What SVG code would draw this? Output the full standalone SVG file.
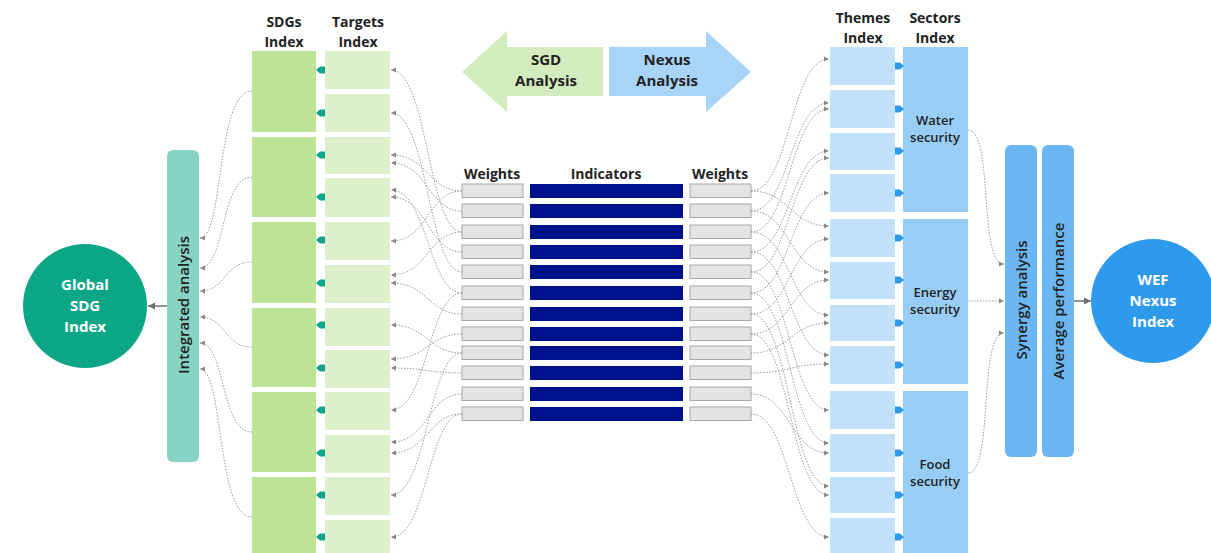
<svg xmlns="http://www.w3.org/2000/svg" width="1211" height="553" viewBox="0 0 1211 553">
<style>
.hd{font-family:"Open Sans","Liberation Sans",sans-serif;font-weight:700;font-size:14px;fill:#222;text-anchor:middle}
.big{font-family:"Open Sans","Liberation Sans",sans-serif;font-weight:700;font-size:15px;text-anchor:middle}
.sec{font-family:"Open Sans","Liberation Sans",sans-serif;font-weight:600;font-size:13px;fill:#222;text-anchor:middle}
.rot{font-family:"Open Sans","Liberation Sans",sans-serif;font-weight:600;font-size:15px;fill:#222;text-anchor:middle;dominant-baseline:central}
.sdg{fill:#bde396}
.tgt{fill:#dcf1cb}
.thm{fill:#c2e0f8}
.sct{fill:#98cdf5}
.wt{fill:#e4e4e4;stroke:#a8a8a8;stroke-width:1}
.ind{fill:#00118c}
.dot{fill:none;stroke:#9a9a9a;stroke-width:1;stroke-dasharray:1.5 1.5;marker-end:url(#ah)}
.solid{fill:none;stroke:#707070;stroke-width:1.5;marker-end:url(#ah2)}
</style>
<defs>
<marker id="ah" markerWidth="6" markerHeight="6" refX="5" refY="3" orient="auto" markerUnits="userSpaceOnUse"><path d="M0,0.5 L5,3 L0,5.5 Z" fill="#888"/></marker>
<marker id="ah2" markerWidth="8" markerHeight="8" refX="7" refY="4" orient="auto" markerUnits="userSpaceOnUse"><path d="M0,0.5 L7,4 L0,7.5 Z" fill="#707070"/></marker>
<path id="ta" d="M0,0 L4,-3.5 L9,-3.5 L9,3.5 L4,3.5 Z" fill="#10a48a"/>
<path id="ba" d="M0,-3.5 L5,-3.5 L9,0 L5,3.5 L0,3.5 Z" fill="#2e9aec"/>
</defs>
<rect width="1211" height="553" fill="#fff"/>

<g id="global-sdg">
<circle cx="85" cy="306" r="62" fill="#0ba686"/>
<text class="big" fill="#fff" x="85" y="290">Global</text>
<text class="big" fill="#fff" x="85" y="311">SDG</text>
<text class="big" fill="#fff" x="85" y="332">Index</text>
</g>

<g id="integrated-analysis">
<rect x="167" y="150" width="32" height="312" rx="6" fill="#87d3c4"/>
<text class="rot" transform="translate(183,305) rotate(-90)">Integrated analysis</text>
</g>

<g id="sdgs-index">
<text class="hd" x="284" y="27">SDGs</text>
<text class="hd" x="284" y="47">Index</text>
<rect class="sdg" x="252" y="51" width="64" height="81"/>
<rect class="sdg" x="252" y="137" width="64" height="80"/>
<rect class="sdg" x="252" y="222" width="64" height="81"/>
<rect class="sdg" x="252" y="308" width="64" height="79"/>
<rect class="sdg" x="252" y="392" width="64" height="80"/>
<rect class="sdg" x="252" y="477" width="64" height="76"/>
</g>

<g id="targets-index">
<text class="hd" x="358" y="27">Targets</text>
<text class="hd" x="358" y="47">Index</text>
<rect class="tgt" x="325" y="51" width="65" height="38"/>
<rect class="tgt" x="325" y="94" width="65" height="38"/>
<rect class="tgt" x="325" y="137" width="65" height="37"/>
<rect class="tgt" x="325" y="178" width="65" height="39"/>
<rect class="tgt" x="325" y="222" width="65" height="38"/>
<rect class="tgt" x="325" y="265" width="65" height="38"/>
<rect class="tgt" x="325" y="308" width="65" height="38"/>
<rect class="tgt" x="325" y="350" width="65" height="38"/>
<rect class="tgt" x="325" y="392" width="65" height="38"/>
<rect class="tgt" x="325" y="435" width="65" height="38"/>
<rect class="tgt" x="325" y="477" width="65" height="38"/>
<rect class="tgt" x="325" y="520" width="65" height="33"/>
</g>

<g id="sgd-analysis">
<path d="M462,72 L507,31 L507,47 L603,47 L603,96 L507,96 L507,112 Z" fill="#d3ecbe"/>
<text class="big" fill="#222" x="546" y="65">SGD</text>
<text class="big" fill="#222" x="546" y="86">Analysis</text>
</g>

<g id="nexus-analysis">
<path d="M751,72 L706,31 L706,47 L609,47 L609,96 L706,96 L706,112 Z" fill="#a8d5f7"/>
<text class="big" fill="#222" x="667" y="65">Nexus</text>
<text class="big" fill="#222" x="667" y="86">Analysis</text>
</g>

<g id="weights-left">
<text class="hd" x="492" y="179">Weights</text>
<rect class="wt" x="462" y="184" width="61" height="13.5"/>
<rect class="wt" x="462" y="204" width="61" height="13.5"/>
<rect class="wt" x="462" y="225" width="61" height="13.5"/>
<rect class="wt" x="462" y="245" width="61" height="13.5"/>
<rect class="wt" x="462" y="265" width="61" height="13.5"/>
<rect class="wt" x="462" y="286" width="61" height="13.5"/>
<rect class="wt" x="462" y="307" width="61" height="13.5"/>
<rect class="wt" x="462" y="327" width="61" height="13.5"/>
<rect class="wt" x="462" y="346" width="61" height="13.5"/>
<rect class="wt" x="462" y="366" width="61" height="13.5"/>
<rect class="wt" x="462" y="387" width="61" height="13.5"/>
<rect class="wt" x="462" y="407" width="61" height="13.5"/>
</g>

<g id="indicators">
<text class="hd" x="606" y="179">Indicators</text>
<rect class="ind" x="530" y="184" width="153" height="14"/>
<rect class="ind" x="530" y="204" width="153" height="14"/>
<rect class="ind" x="530" y="225" width="153" height="14"/>
<rect class="ind" x="530" y="245" width="153" height="14"/>
<rect class="ind" x="530" y="265" width="153" height="14"/>
<rect class="ind" x="530" y="286" width="153" height="14"/>
<rect class="ind" x="530" y="307" width="153" height="14"/>
<rect class="ind" x="530" y="327" width="153" height="14"/>
<rect class="ind" x="530" y="346" width="153" height="14"/>
<rect class="ind" x="530" y="366" width="153" height="14"/>
<rect class="ind" x="530" y="387" width="153" height="14"/>
<rect class="ind" x="530" y="407" width="153" height="14"/>
</g>

<g id="weights-right">
<text class="hd" x="720" y="179">Weights</text>
<rect class="wt" x="690" y="184" width="61" height="13.5"/>
<rect class="wt" x="690" y="204" width="61" height="13.5"/>
<rect class="wt" x="690" y="225" width="61" height="13.5"/>
<rect class="wt" x="690" y="245" width="61" height="13.5"/>
<rect class="wt" x="690" y="265" width="61" height="13.5"/>
<rect class="wt" x="690" y="286" width="61" height="13.5"/>
<rect class="wt" x="690" y="307" width="61" height="13.5"/>
<rect class="wt" x="690" y="327" width="61" height="13.5"/>
<rect class="wt" x="690" y="346" width="61" height="13.5"/>
<rect class="wt" x="690" y="366" width="61" height="13.5"/>
<rect class="wt" x="690" y="387" width="61" height="13.5"/>
<rect class="wt" x="690" y="407" width="61" height="13.5"/>
</g>

<g id="themes-index">
<text class="hd" x="863" y="23">Themes</text>
<text class="hd" x="863" y="43">Index</text>
<rect class="thm" x="830" y="47" width="65" height="38"/>
<rect class="thm" x="830" y="90" width="65" height="38"/>
<rect class="thm" x="830" y="133" width="65" height="37"/>
<rect class="thm" x="830" y="174" width="65" height="38"/>
<rect class="thm" x="830" y="219" width="65" height="38"/>
<rect class="thm" x="830" y="262" width="65" height="37"/>
<rect class="thm" x="830" y="305" width="65" height="36"/>
<rect class="thm" x="830" y="346" width="65" height="38"/>
<rect class="thm" x="830" y="391" width="65" height="38"/>
<rect class="thm" x="830" y="434" width="65" height="38"/>
<rect class="thm" x="830" y="477" width="65" height="36"/>
<rect class="thm" x="830" y="518" width="65" height="35"/>
</g>

<g id="sectors-index">
<text class="hd" x="935" y="23">Sectors</text>
<text class="hd" x="935" y="43">Index</text>
<rect class="sct" x="903" y="47" width="65" height="165"/>
<rect class="sct" x="903" y="219" width="65" height="165"/>
<rect class="sct" x="903" y="391" width="65" height="162"/>
<text class="sec" x="935" y="125">Water</text>
<text class="sec" x="935" y="142">security</text>
<text class="sec" x="935" y="297">Energy</text>
<text class="sec" x="935" y="314">security</text>
<text class="sec" x="935" y="469">Food</text>
<text class="sec" x="935" y="486">security</text>
</g>

<g id="synergy-analysis">
<rect x="1005" y="145" width="32" height="312" rx="6" fill="#6cb6f2"/>
<text class="rot" transform="translate(1021,300) rotate(-90)">Synergy analysis</text>
</g>

<g id="average-performance">
<rect x="1042" y="145" width="32" height="312" rx="6" fill="#6cb6f2"/>
<text class="rot" transform="translate(1058,301) rotate(-90)">Average performance</text>
</g>

<g id="wef-nexus">
<circle cx="1153" cy="301" r="62" fill="#2e9aec"/>
<text class="big" fill="#fff" x="1153" y="285">WEF</text>
<text class="big" fill="#fff" x="1153" y="306">Nexus</text>
<text class="big" fill="#fff" x="1153" y="327">Index</text>
</g>

<g id="connectors">
<!-- target -> SDG arrows -->
<use href="#ta" x="316" y="70"/><use href="#ta" x="316" y="113"/><use href="#ta" x="316" y="155"/><use href="#ta" x="316" y="197"/>
<use href="#ta" x="316" y="240"/><use href="#ta" x="316" y="283"/><use href="#ta" x="316" y="325"/><use href="#ta" x="316" y="368"/>
<use href="#ta" x="316" y="410"/><use href="#ta" x="316" y="453"/><use href="#ta" x="316" y="495"/><use href="#ta" x="316" y="537"/>
<!-- theme -> sector arrows -->
<use href="#ba" x="895" y="66"/><use href="#ba" x="895" y="109"/><use href="#ba" x="895" y="151"/><use href="#ba" x="895" y="193"/>
<use href="#ba" x="895" y="238"/><use href="#ba" x="895" y="280"/><use href="#ba" x="895" y="323"/><use href="#ba" x="895" y="365"/>
<use href="#ba" x="895" y="410"/><use href="#ba" x="895" y="453"/><use href="#ba" x="895" y="495"/><use href="#ba" x="895" y="537"/>

<!-- left weights -> targets -->
<path class="dot" d="M462,232 C428,232 428,70 391,70"/>
<path class="dot" d="M462,272 C428,272 428,113 391,113"/>
<path class="dot" d="M462,191 C428,191 428,155 391,155"/>
<path class="dot" d="M462,211 C428,211 428,163 391,163"/>
<path class="dot" d="M462,293 C428,293 428,190 391,190"/>
<path class="dot" d="M462,252 C428,252 428,197 391,197"/>
<path class="dot" d="M462,191 C428,191 428,241 391,241"/>
<path class="dot" d="M462,232 C428,232 428,275 391,275"/>
<path class="dot" d="M462,314 C428,314 428,283 391,283"/>
<path class="dot" d="M462,353 C428,353 428,325 391,325"/>
<path class="dot" d="M462,334 C428,334 428,359 391,359"/>
<path class="dot" d="M462,373 C428,373 428,368 391,368"/>
<path class="dot" d="M462,293 C428,293 428,410 391,410"/>
<path class="dot" d="M462,394 C428,394 428,442 391,442"/>
<path class="dot" d="M462,414 C428,414 428,453 391,453"/>
<path class="dot" d="M462,353 C428,353 428,495 391,495"/>
<path class="dot" d="M462,414 C428,414 428,537 391,537"/>

<!-- right weights -> themes -->
<path class="dot" d="M751,191 C790,191 790,59 829,59"/>
<path class="dot" d="M751,191 C790,191 790,226 829,226"/>
<path class="dot" d="M751,211 C790,211 790,103 829,103"/>
<path class="dot" d="M751,211 C790,211 790,272 829,272"/>
<path class="dot" d="M751,232 C790,232 790,109 829,109"/>
<path class="dot" d="M751,232 C790,232 790,315 829,315"/>
<path class="dot" d="M751,252 C790,252 790,151 829,151"/>
<path class="dot" d="M751,252 C790,252 790,355 829,355"/>
<path class="dot" d="M751,272 C790,272 790,158 829,158"/>
<path class="dot" d="M751,272 C790,272 790,410 829,410"/>
<path class="dot" d="M751,293 C790,293 790,193 829,193"/>
<path class="dot" d="M751,293 C790,293 790,443 829,443"/>
<path class="dot" d="M751,314 C790,314 790,239 829,239"/>
<path class="dot" d="M751,314 C790,314 790,486 829,486"/>
<path class="dot" d="M751,334 C790,334 790,280 829,280"/>
<path class="dot" d="M751,334 C790,334 790,495 829,495"/>
<path class="dot" d="M751,353 C790,353 790,323 829,323"/>
<path class="dot" d="M751,373 C790,373 790,364 829,364"/>
<path class="dot" d="M751,394 C790,394 790,453 829,453"/>
<path class="dot" d="M751,414 C790,414 790,537 829,537"/>

<!-- SDGs -> integrated analysis -->
<path class="dot" d="M252,91 C216,91 224,238 200,238"/>
<path class="dot" d="M252,177 C220,177 226,268 200,268"/>
<path class="dot" d="M252,262 C224,262 226,291 200,291"/>
<path class="dot" d="M252,347 C224,347 226,317 200,317"/>
<path class="dot" d="M252,432 C220,432 226,343 200,343"/>
<path class="dot" d="M252,517 C216,517 224,369 200,369"/>

<!-- sectors -> synergy -->
<path class="dot" d="M968,130 C994,130 978,264 1004,264"/>
<path class="dot" d="M968,301 L1004,301"/>
<path class="dot" d="M968,473 C994,473 978,333 1004,333"/>

<!-- to circles -->
<path class="solid" d="M167,306 L148,306"/>
<path class="solid" d="M1074,301 L1091,301"/>
</g>
</svg>
